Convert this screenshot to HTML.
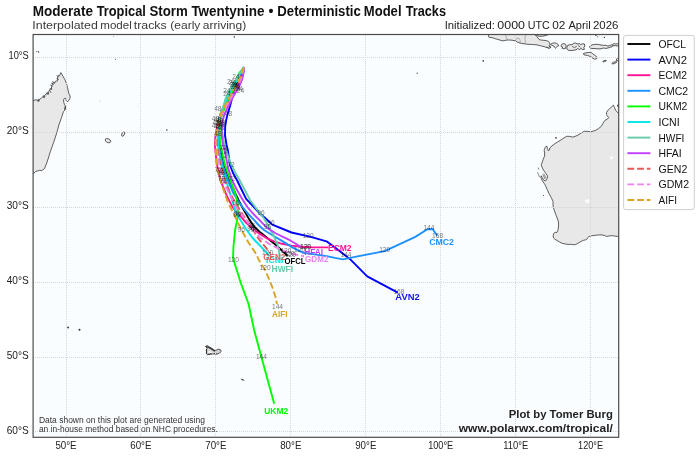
<!DOCTYPE html>
<html><head><meta charset="utf-8"><title>Model Tracks</title>
<style>html,body{margin:0;padding:0;background:#fff;}body{width:700px;height:457px;overflow:hidden;font-family:"Liberation Sans",sans-serif;}svg{will-change:transform;transform:translateZ(0);}</style></head>
<body>
<svg width="700" height="457" viewBox="0 0 700 457" style="display:block;font-family:'Liberation Sans',sans-serif">
<rect width="700" height="457" fill="#ffffff"/>
<defs><clipPath id="mc"><rect x="33.1" y="34.5" width="585.6" height="402.8"/></clipPath></defs>
<rect x="33.1" y="34.5" width="585.6" height="402.8" fill="#fafdff"/>
<g clip-path="url(#mc)">
<g fill="#e8e8e8" stroke="#2e2e2e" stroke-width="0.75" stroke-linejoin="round">
<path d="M30.0,100.5 L33.9,100.5 L36.0,99.6 L38.0,101.2 L38.8,99.8 L41.0,98.4 L43.1,96.5 L44.0,97.6 L44.8,95.2 L47.1,93.3 L48.2,94.3 L48.8,91.5 L50.4,88.7 L51.6,89.4 L51.5,86.5 L53.0,82.7 L54.6,83.3 L55.4,81.3 L57.6,80.8 L57.2,78.4 L58.3,75.5 L59.4,75.9 L60.9,72.6 L62.3,75.0 L64.8,79.5 L66.4,83.3 L67.5,87.3 L68.2,90.5 L68.8,93.3 L70.1,96.0 L70.0,98.3 L68.8,100.5 L67.2,101.8 L66.2,100.6 L65.8,98.5 L64.5,98.3 L63.5,99.8 L63.8,102.5 L64.6,104.6 L65.9,107.4 L64.6,108.6 L65.0,110.0 L63.5,111.5 L61.5,117.6 L58.9,125.0 L56.9,132.5 L53.7,142.3 L50.4,151.5 L47.1,162.0 L44.5,168.6 L41.8,170.6 L39.5,170.3 L37.9,170.8 L35.5,171.6 L33.9,173.2 L30.0,174.0Z"/>
<path d="M625.0,113.4 L618.5,113.4 L617.0,111.8 L615.7,110.3 L614.5,107.5 L613.4,105.2 L611.5,106.8 L609.6,108.8 L607.6,110.5 L606.5,112.6 L606.6,114.5 L607.0,115.7 L608.8,117.7 L607.0,119.2 L605.0,120.3 L603.0,123.2 L601.2,126.4 L598.5,128.6 L595.8,130.2 L593.0,131.2 L590.5,131.7 L587.5,131.4 L584.3,131.3 L581.5,132.8 L579.0,134.5 L576.0,136.0 L572.9,137.1 L569.5,136.4 L566.7,136.3 L563.5,138.2 L560.6,140.2 L557.5,142.0 L554.5,144.0 L552.0,145.8 L549.9,147.8 L549.3,150.2 L548.2,150.6 L547.4,148.3 L546.6,145.9 L545.2,147.5 L544.1,150.1 L544.7,153.0 L544.5,156.2 L543.2,159.3 L542.2,162.4 L541.2,164.6 L542.3,167.8 L543.8,170.7 L545.8,173.3 L547.6,176.1 L547.2,178.6 L545.6,180.9 L543.8,180.3 L542.5,178.0 L541.3,175.8 L540.8,177.3 L542.4,181.0 L544.2,183.4 L545.3,185.3 L547.2,189.5 L549.1,193.7 L551.2,197.5 L553.0,201.3 L553.0,204.5 L553.3,207.5 L554.6,211.3 L556.0,215.1 L557.2,218.0 L558.3,221.2 L558.6,225.0 L558.3,228.0 L557.8,230.5 L556.8,232.6 L555.2,232.3 L553.7,233.4 L553.2,235.8 L553.5,238.0 L555.0,239.4 L556.8,240.3 L559.4,242.0 L562.1,243.3 L565.2,244.0 L568.3,244.4 L571.4,244.4 L574.4,244.8 L576.8,244.0 L579.0,242.6 L581.3,241.3 L583.6,240.3 L585.6,239.8 L587.4,238.7 L588.2,237.2 L588.9,236.4 L591.5,235.8 L594.3,235.4 L598.0,235.0 L601.9,234.9 L604.3,235.4 L606.5,236.4 L609.5,235.9 L612.7,235.7 L615.5,236.2 L618.5,236.4 L625.0,236.4Z"/>
<path d="M488.6,30.0 L488.6,34.8 L488.4,36.2 L489.1,37.4 L492.0,37.6 L494.9,38.6 L499.0,39.8 L502.9,40.9 L505.8,40.2 L508.6,40.0 L512.0,40.2 L515.4,40.9 L517.6,42.2 L520.0,43.1 L524.0,43.8 L528.0,44.3 L532.5,44.5 L537.1,44.9 L540.5,45.8 L544.0,46.6 L547.0,47.6 L549.7,48.3 L550.9,47.1 L549.6,45.8 L549.9,44.4 L549.4,42.6 L548.6,41.4 L546.3,40.6 L544.0,40.3 L541.7,40.1 L539.4,39.7 L537.9,37.9 L536.6,36.3 L535.8,35.5 L534.9,34.8 L534.9,30.0Z"/>
</g>
<g fill="#e8e8e8" stroke="#2e2e2e" stroke-width="0.8" stroke-linejoin="round">
<path d="M536.2,30.0 L536.2,35.2 L538.0,36.0 L541.0,36.3 L544.0,35.9 L546.5,35.3 L548.0,34.8 L548.0,30.0Z"/>
<path d="M550.6,44.4 L552.2,43.3 L554.5,42.9 L556.5,43.4 L558.2,44.6 L558.7,45.8 L557.4,46.2 L556.4,47.4 L555.4,48.3 L554.6,47.2 L553.8,46.0 L552.0,45.4Z"/>
<path d="M561.2,45.2 L562.3,43.9 L564.2,43.6 L565.8,44.6 L566.1,46.5 L565.6,48.3 L564.0,48.8 L562.3,48.4 L562.6,47.0 L561.3,46.7Z"/>
<path d="M566.8,47.5 L567.6,45.5 L570.0,44.7 L572.5,44.6 L573.3,43.4 L575.5,43.0 L577.2,44.0 L579.5,43.6 L580.8,44.6 L582.5,43.8 L584.5,44.0 L584.9,46.0 L583.8,47.5 L584.4,49.3 L582.5,49.6 L581.0,48.4 L579.4,49.6 L577.5,48.6 L576.0,49.8 L573.5,50.3 L570.5,50.6 L568.0,50.1 L566.9,49.0Z"/>
<path d="M589.6,47.0 L590.2,45.6 L592.5,44.8 L595.5,44.3 L598.5,44.4 L601.0,45.0 L603.5,45.4 L605.8,45.2 L607.6,46.0 L609.8,45.6 L611.4,44.8 L612.6,45.4 L612.2,46.8 L610.2,47.2 L608.0,48.0 L605.6,48.4 L603.4,48.0 L601.0,48.8 L598.0,48.9 L595.0,48.6 L592.0,48.5 L590.2,48.0Z"/>
<path d="M612.6,44.4 L613.8,43.6 L615.5,44.0 L617.2,43.8 L619.0,44.2 L619.0,45.8 L617.0,46.0 L615.2,45.6 L613.4,46.0Z"/>
<path d="M583.4,53.6 L585.5,52.8 L588.5,52.5 L590.8,52.3 L592.5,53.5 L594.3,55.0 L596.2,56.4 L597.6,57.6 L596.8,58.6 L594.6,59.2 L593.0,58.4 L591.5,57.2 L589.5,56.2 L587.5,55.4 L585.2,55.1 L583.8,54.7Z"/>
<path d="M602.8,61.4 L604.2,60.6 L606.0,60.2 L606.2,61.0 L604.6,61.6 L603.2,62.0Z"/>
<path d="M611.8,63.4 L613.2,62.4 L615.2,61.8 L616.4,61.6 L616.4,62.6 L614.6,63.4 L612.8,64.0Z"/>
<path d="M616.0,60.2 L617.2,58.6 L618.4,57.0 L622.0,55.0 L622.0,62.0 L618.0,61.0Z"/>
<path d="M105.3,139.2 L106.6,138.5 L108.4,138.8 L110.0,139.9 L110.8,141.3 L110.2,142.4 L108.6,142.8 L106.8,142.2 L105.5,140.9Z"/>
<path d="M121.6,134.6 L122.3,133.0 L123.4,132.0 L124.5,132.2 L124.6,133.8 L123.9,135.4 L122.8,136.3 L121.8,135.9Z"/>
</g>
<path d="M205.4,346.4 L207.5,345.6 L209.3,346.9 L211.7,348.2 L213.8,349.8 L215.3,350.6 L216.9,349.8 L219.0,349.1 L220.9,350.1 L221.0,351.7 L219.5,353.2 L217.4,354.0 L214.8,353.8 L212.7,354.0 L210.1,353.8 L207.7,354.8 L206.4,353.8 L206.7,351.7 L206.1,350.1 L207.2,348.2Z" fill="#d2d2d2" stroke="#303030" stroke-width="0.8" stroke-linejoin="round"/>
<path d="M206.2,346.6 L209.2,347.6 L212.2,349.4 L214.9,351.2" fill="none" stroke="#383838" stroke-width="1.25" stroke-linecap="round"/>
<path d="M208.8,350.4 L211.7,352.0 L213.0,353.0 L209.0,353.4 L208.2,352.2 Z" fill="#f4f4f4"/>
<path d="M206.6,349 L206.4,353.6 M207.6,354.4 L212,353.9 M214,353.6 L216.8,353.9" fill="none" stroke="#333" stroke-width="1.0"/>
<g fill="none" stroke="#2e2e2e" stroke-width="0.7" stroke-linecap="round">
<path d="M37.9,99.9 L38.9,101.6 M39.2,100.4 L38.4,99.3"/>
<path d="M43.2,96.0 L44.4,97.8 M44.7,96.2 L43.8,95.3"/>
<path d="M46.5,92.8 L48.0,94.6 M48.3,93.0 L47.4,92.2"/>
<path d="M49.8,90.7 L50.9,92.4 M51.0,89.6 L50.2,88.6"/>
<path d="M50.6,85.2 L52.4,86.2 M51.6,83.2 L53.4,84.4 M52.6,81.6 L54.4,82.6"/>
<path d="M57.0,75.6 L58.4,77.0 M57.4,78.6 L58.6,79.4"/>
<path d="M64.6,107.0 L65.8,109.4 M65.9,107.2 L64.9,109.0"/>
<path d="M572.6,46.6 L574.4,47.6 L576.4,46.4 M578.4,45.6 L580,47.0"/>
<path d="M549.2,46.0 L550.4,47.8 M547.4,47.0 L548.2,48.2"/>
</g>
<g fill="none" stroke="#666" stroke-width="0.45"><path d="M505.7,35 L506.4,37.5 L507.6,40"/><path d="M525.8,35 L524.8,38 L525.4,41 L524.6,43.6"/><path d="M515.4,40.9 L516.5,38.5 L518.8,38.2 L520.2,40.2 L520,43.1"/></g>
<g fill="#fbfbfb"><ellipse cx="611.6" cy="157.8" rx="1.7" ry="1.5"/><path d="M584.2,200.2 L588.6,199.0 L589.6,201.0 L589.2,203.2 L586.6,203.0 Z"/></g>
<g fill="#2e2e2e">
<circle cx="234.3" cy="37.1" r="0.75"/>
<circle cx="113.3" cy="36.4" r="0.4"/>
<circle cx="68.1" cy="327.5" r="0.9"/>
<circle cx="79.5" cy="329.7" r="1.0"/>
<circle cx="483.2" cy="60.9" r="0.8"/>
<circle cx="417.2" cy="73.2" r="0.6"/>
<circle cx="115.5" cy="59.3" r="0.5"/>
<circle cx="166.9" cy="130.0" r="0.75"/>
<circle cx="556.0" cy="137.9" r="0.8"/>
<circle cx="543.6" cy="195.5" r="0.5"/>
<circle cx="595.9" cy="35.3" r="0.8"/>
<circle cx="604.4" cy="37.4" r="0.6"/>
<circle cx="597.8" cy="36.8" r="0.5"/>
<circle cx="618.2" cy="105.7" r="1.1"/>
<circle cx="38.5" cy="52.0" r="0.7"/>
<circle cx="36.8" cy="51.6" r="0.5"/>
<circle cx="272.4" cy="265.8" r="0.5"/>
<path d="M240.6,378.8 L242.5,379.0 L244.5,380.2 L243.8,380.8 L241.8,380.1 Z"/>
</g>
<circle cx="100.3" cy="101.1" r="0.6" fill="#bbb"/><circle cx="138" cy="106.8" r="0.5" fill="#ccc"/>
<g fill="none" stroke="#2e2e2e" stroke-width="0.6"><path d="M537.6,172.2 L538.4,174.6 L539.8,177.2"/><path d="M538.3,167.6 L538.9,169.6"/><path d="M542.8,174.5 L544.2,177.2 L545.2,179.2 M543.6,173.6 L545.0,176.0 L546.0,178.2"/></g>
<g stroke="#d6d6d6" stroke-width="1" stroke-dasharray="1,1" fill="none" shape-rendering="crispEdges">
<line x1="66.0" y1="34.5" x2="66.0" y2="437.3"/>
<line x1="140.9" y1="34.5" x2="140.9" y2="437.3"/>
<line x1="215.9" y1="34.5" x2="215.9" y2="437.3"/>
<line x1="290.9" y1="34.5" x2="290.9" y2="437.3"/>
<line x1="365.8" y1="34.5" x2="365.8" y2="437.3"/>
<line x1="440.8" y1="34.5" x2="440.8" y2="437.3"/>
<line x1="515.7" y1="34.5" x2="515.7" y2="437.3"/>
<line x1="590.6" y1="34.5" x2="590.6" y2="437.3"/>
<line x1="33.1" y1="57.4" x2="618.7" y2="57.4"/>
<line x1="33.1" y1="132.3" x2="618.7" y2="132.3"/>
<line x1="33.1" y1="207.2" x2="618.7" y2="207.2"/>
<line x1="33.1" y1="282.1" x2="618.7" y2="282.1"/>
<line x1="33.1" y1="357.0" x2="618.7" y2="357.0"/>
<line x1="33.1" y1="431.9" x2="618.7" y2="431.9"/>
</g>
<g fill="none" stroke-width="1.9" stroke-linejoin="round" stroke-linecap="butt">
<path d="M244.0,67.2 L241.2,73.4 L239.2,78.6 L235.8,85.2 L232.1,91.8 L228.6,98.3 L226.1,104.0 L223.3,110.2 L221.4,114.4 L220.1,120.0 L219.4,126.3 L219.1,135.5 L219.6,144.7 L220.7,150.0 L222.6,160.0 L226.6,172.0 L231.2,184.0 L236.0,194.9 L242.1,207.1 L249.2,219.4 L254.0,226.5 L260.5,232.6 L266.4,237.3 L275.6,244.7 L282.4,251.0 L287.6,255.8" stroke="#000000"/>
<path d="M244.0,67.2 L243.2,73.4 L241.8,78.6 L238.9,85.2 L235.3,91.8 L232.0,98.3 L230.6,104.0 L228.8,110.2 L227.5,114.4 L226.2,120.0 L225.2,126.3 L225.0,135.5 L226.5,144.7 L227.8,150.0 L228.8,157.0 L229.8,164.4 L233.0,173.0 L236.9,180.0 L241.5,189.5 L246.1,198.8 L252.0,205.0 L260.5,214.3 L264.9,217.7 L272.3,224.6 L291.5,232.5 L310.8,236.9 L326.5,241.3 L337.0,249.1 L350.8,259.8 L367.2,276.3 L397.8,292.7" stroke="#0000ff"/>
<path d="M244.0,67.2 L242.0,73.4 L240.3,78.6 L237.2,85.2 L233.5,91.8 L229.8,98.3 L226.6,104.0 L223.0,110.2 L220.7,114.4 L218.7,120.0 L217.2,126.3 L215.5,135.5 L214.9,144.7 L215.3,150.0 L216.7,163.1 L218.6,172.0 L220.3,180.0 L226.4,194.9 L232.5,207.1 L238.0,213.5 L246.5,223.0 L253.0,229.0 L260.5,234.4 L266.0,237.8 L274.0,241.3 L282.0,243.8 L291.5,245.6 L302.0,246.8 L312.5,247.4 L328.3,247.4" stroke="#ff1493"/>
<path d="M244.0,67.2 L240.2,73.4 L237.7,78.6 L234.1,85.2 L230.3,91.8 L227.0,98.3 L224.6,104.0 L222.1,110.2 L220.4,114.4 L219.1,120.0 L218.5,126.3 L218.4,135.5 L218.7,144.7 L219.6,150.0 L223.2,167.1 L227.7,180.0 L233.8,194.0 L240.0,203.6 L246.0,211.5 L253.5,219.4 L259.0,225.5 L264.0,230.0 L272.1,235.0 L283.6,241.9 L292.7,247.6 L303.0,252.7 L314.4,254.4 L326.5,256.1 L335.0,257.9 L343.1,259.4 L356.3,256.6 L384.7,251.1 L415.3,236.9 L427.4,229.2 L432.8,229.2 L437.2,235.8" stroke="#1e90ff"/>
<path d="M244.0,67.2 L239.1,73.4 L236.4,78.6 L234.2,85.2 L232.1,91.8 L228.8,98.3 L226.4,104.0 L223.7,110.2 L221.8,114.4 L220.5,120.0 L219.9,126.3 L219.7,135.5 L220.4,144.7 L221.5,150.0 L225.2,165.8 L230.3,180.0 L235.6,194.9 L237.9,205.4 L237.8,208.9 L237.3,219.4 L235.1,230.0 L233.4,247.5 L233.0,258.0 L240.8,283.0 L248.6,304.0 L254.1,330.0 L261.4,357.0 L274.2,403.8" stroke="#00ff00"/>
<path d="M244.0,67.2 L240.3,73.4 L237.5,78.6 L234.1,85.2 L230.5,91.8 L227.1,98.3 L224.7,104.0 L222.0,110.2 L220.2,114.4 L218.9,120.0 L218.2,126.3 L217.8,135.5 L217.9,144.7 L218.7,150.0 L221.9,167.1 L226.0,180.0 L231.2,197.5 L236.0,212.4 L240.4,220.0 L246.0,229.0 L251.8,237.0 L255.0,240.5 L261.9,247.6 L267.6,253.9 L269.6,256.3" stroke="#00e5e5"/>
<path d="M244.0,67.2 L239.4,73.4 L236.4,78.6 L232.5,85.2 L228.7,91.8 L225.6,98.3 L224.1,104.0 L222.4,110.2 L221.3,114.4 L220.9,120.0 L221.2,126.3 L222.7,135.5 L224.3,144.7 L226.0,150.0 L230.5,163.1 L235.0,172.0 L239.5,180.0 L244.5,189.5 L250.0,200.0 L257.0,209.5 L264.0,218.5 L267.5,224.8 L271.0,231.0 L273.3,235.0 L277.3,244.1 L279.0,251.0 L279.6,256.7" stroke="#66cdaa"/>
<path d="M244.0,67.2 L243.4,73.4 L242.4,78.6 L239.7,85.2 L236.1,91.8 L232.1,98.3 L229.5,104.0 L226.4,110.2 L224.3,114.4 L222.9,120.0 L222.0,126.3 L221.7,135.5 L223.0,144.7 L224.5,150.0 L226.6,160.0 L227.8,167.1 L232.0,180.0 L236.5,189.0 L241.3,197.5 L247.4,207.1 L252.5,213.0 L258.8,219.4 L267.5,228.3 L276.0,233.5 L289.8,240.2 L297.0,244.5 L300.7,247.0" stroke="#bf3eff"/>
<path d="M244.0,67.2 L242.4,73.4 L241.0,78.6 L238.0,85.2 L234.3,91.8 L230.5,98.3 L227.5,104.0 L224.0,110.2 L221.7,114.4 L219.8,120.0 L218.5,126.3 L217.1,135.5 L217.0,144.7 L217.7,150.0 L220.6,165.0 L224.8,180.0 L230.0,193.0 L236.0,204.0 L243.0,215.0 L250.0,224.8 L257.9,237.9 L263.0,244.1 L267.6,249.9 L270.5,253.5" stroke="#e05a5a" stroke-dasharray="6.8,2.94"/>
<path d="M244.0,67.2 L242.5,73.4 L241.1,78.6 L238.1,85.2 L234.5,91.8 L230.7,98.3 L227.5,104.0 L223.9,110.2 L221.5,114.4 L219.5,120.0 L218.1,126.3 L216.5,135.5 L216.2,144.7 L216.8,150.0 L219.4,165.0 L223.8,182.6 L229.0,193.1 L235.1,205.4 L240.4,213.3 L245.6,219.4 L250.5,226.0 L255.3,231.8 L259.6,237.3 L268.7,243.6 L281.3,249.9 L292.7,253.9 L304.0,256.3" stroke="#ee82ee" stroke-dasharray="6.8,2.94"/>
<path d="M244.0,67.2 L241.4,73.4 L239.4,78.6 L236.1,85.2 L232.4,91.8 L228.8,98.3 L225.9,104.0 L222.5,110.2 L220.4,114.4 L218.6,120.0 L217.3,126.3 L216.0,135.5 L215.6,144.7 L216.0,150.0 L216.0,156.6 L217.3,169.7 L221.1,182.6 L224.6,193.1 L228.1,202.8 L232.5,211.5 L236.0,218.5 L240.5,228.0 L248.3,242.3 L255.0,252.1 L259.6,261.3 L265.3,270.4 L269.3,279.6 L273.0,289.0 L275.8,297.9 L277.0,304.0" stroke="#daa520" stroke-dasharray="6.8,2.94"/>
</g>
<g font-size="6.6" fill="#000" fill-opacity="0.55" text-anchor="middle">
<text x="236" y="78.9">24</text>
<text x="230.6" y="83.5">24</text>
<text x="232.6" y="84.9">24</text>
<text x="233.2" y="87.1">24</text>
<text x="235.2" y="86.9">24</text>
<text x="234.4" y="89.3">24</text>
<text x="236.6" y="88.9">24</text>
<text x="237.2" y="91.1">24</text>
<text x="239.2" y="90.8">24</text>
<text x="240.4" y="92.9">24</text>
<text x="226.8" y="93.3">24</text>
<text x="227" y="96.3">24</text>
<text x="217.8" y="110.5">48</text>
<text x="228.4" y="116.4">48</text>
<text x="215.5" y="120.8">48</text>
<text x="217.5" y="122.1">48</text>
<text x="219.8" y="122.9">48</text>
<text x="221.6" y="124.5">48</text>
<text x="216.2" y="124.9">48</text>
<text x="218.6" y="125.9">48</text>
<text x="222.4" y="126.9">48</text>
<text x="215.4" y="127.9">48</text>
<text x="217.8" y="129.2">48</text>
<text x="220.6" y="129.6">48</text>
<text x="218" y="135.8">48</text>
<text x="223.2" y="150.2">72</text>
<text x="224" y="152.9">72</text>
<text x="223.2" y="158.2">72</text>
<text x="231.1" y="167.4">72</text>
<text x="218.5" y="172.3">72</text>
<text x="220" y="173.3">72</text>
<text x="221" y="175.3">72</text>
<text x="221.9" y="176.7">72</text>
<text x="221.3" y="180.5">72</text>
<text x="223.2" y="182.5">72</text>
<text x="231.8" y="180.5">72</text>
<text x="236" y="205.2">96</text>
<text x="236.9" y="216.7">96</text>
<text x="237.3" y="216.0">96</text>
<text x="260.9" y="214.8">96</text>
<text x="271" y="225.0">96</text>
<text x="267.5" y="228.8">96</text>
<text x="251.8" y="227.9">96</text>
<text x="250.9" y="231.4">96</text>
<text x="241.3" y="232.3">96</text>
<text x="252.6" y="229.8">96</text>
<text x="254.4" y="232.3">96</text>
<text x="233.4" y="262.2">120</text>
<text x="267.6" y="255.0">120</text>
<text x="265.1" y="270.2">120</text>
<text x="285.9" y="252.8">120</text>
<text x="289.3" y="255.7">120</text>
<text x="290.4" y="257.4">120</text>
<text x="308.2" y="238.0">120</text>
<text x="305.3" y="248.8">120</text>
<text x="306" y="249.2">120</text>
<text x="299.6" y="252.2">120</text>
<text x="384.7" y="252.3">120</text>
<text x="346" y="256.8">144</text>
<text x="428.9" y="230.4">144</text>
<text x="277.5" y="308.5">144</text>
<text x="261.4" y="359.0">144</text>
<text x="437.6" y="237.7">168</text>
<text x="398.9" y="294.4">168</text>
</g>
<g font-size="8.2" font-weight="bold">
<text x="284.6" y="263.7" fill="#000000" textLength="21.0" lengthAdjust="spacingAndGlyphs">OFCL</text>
<text x="395.3" y="300.4" fill="#1414ee" textLength="24.4" lengthAdjust="spacingAndGlyphs">AVN2</text>
<text x="328.0" y="251.2" fill="#ff1493" textLength="23.6" lengthAdjust="spacingAndGlyphs">ECM2</text>
<text x="429.2" y="245.3" fill="#1e90ff" textLength="24.8" lengthAdjust="spacingAndGlyphs">CMC2</text>
<text x="264.2" y="414.3" fill="#00ff00" textLength="24.0" lengthAdjust="spacingAndGlyphs">UKM2</text>
<text x="266.0" y="263.0" fill="#00e5e5" textLength="17.4" lengthAdjust="spacingAndGlyphs">ICNI</text>
<text x="271.6" y="271.8" fill="#66cdaa" textLength="21.4" lengthAdjust="spacingAndGlyphs">HWFI</text>
<text x="304.2" y="255.1" fill="#bf3eff" textLength="19.0" lengthAdjust="spacingAndGlyphs">HFAI</text>
<text x="263.3" y="260.2" fill="#e05a5a" textLength="21.9" lengthAdjust="spacingAndGlyphs">GEN2</text>
<text x="305.0" y="262.2" fill="#ee82ee" textLength="23.4" lengthAdjust="spacingAndGlyphs">GDM2</text>
<text x="272.0" y="316.5" fill="#daa520" textLength="15.4" lengthAdjust="spacingAndGlyphs">AIFI</text>
</g>
<g font-size="8.3" fill="#333"><text x="38.9" y="422.6" textLength="166" lengthAdjust="spacingAndGlyphs">Data shown on this plot are generated using</text><text x="38.9" y="432.2" textLength="179" lengthAdjust="spacingAndGlyphs">an in-house method based on NHC procedures.</text></g>
<g font-size="11.5" font-weight="bold" fill="#222" text-anchor="end"><text x="612.8" y="418" textLength="104" lengthAdjust="spacingAndGlyphs">Plot by Tomer Burg</text><text x="612.8" y="431.5" textLength="154" lengthAdjust="spacingAndGlyphs">www.polarwx.com/tropical/</text></g>
</g>
<rect x="33.1" y="34.5" width="585.6" height="402.8" fill="none" stroke="#4c4c4c" stroke-width="1.2"/>
<g font-size="10.8" fill="#222">
<text x="55.4" y="449.2" textLength="21.2" lengthAdjust="spacingAndGlyphs">50°E</text>
<text x="130.3" y="449.2" textLength="21.2" lengthAdjust="spacingAndGlyphs">60°E</text>
<text x="205.3" y="449.2" textLength="21.2" lengthAdjust="spacingAndGlyphs">70°E</text>
<text x="280.2" y="449.2" textLength="21.2" lengthAdjust="spacingAndGlyphs">80°E</text>
<text x="355.2" y="449.2" textLength="21.2" lengthAdjust="spacingAndGlyphs">90°E</text>
<text x="428.2" y="449.2" textLength="25.0" lengthAdjust="spacingAndGlyphs">100°E</text>
<text x="503.2" y="449.2" textLength="25.0" lengthAdjust="spacingAndGlyphs">110°E</text>
<text x="578.1" y="449.2" textLength="25.0" lengthAdjust="spacingAndGlyphs">120°E</text>
<text x="8.5" y="59.4" textLength="20.2" lengthAdjust="spacingAndGlyphs">10°S</text>
<text x="6.7" y="134.3" textLength="22.0" lengthAdjust="spacingAndGlyphs">20°S</text>
<text x="6.7" y="209.2" textLength="22.0" lengthAdjust="spacingAndGlyphs">30°S</text>
<text x="6.7" y="284.1" textLength="22.0" lengthAdjust="spacingAndGlyphs">40°S</text>
<text x="6.7" y="359.0" textLength="22.0" lengthAdjust="spacingAndGlyphs">50°S</text>
<text x="6.7" y="433.9" textLength="22.0" lengthAdjust="spacingAndGlyphs">60°S</text>
</g>
<text x="32.71" y="15.6" font-size="13.9" font-weight="bold" fill="#111" textLength="60.25" lengthAdjust="spacingAndGlyphs">Moderate</text>
<text x="96.64" y="15.6" font-size="13.9" font-weight="bold" fill="#111" textLength="49.21" lengthAdjust="spacingAndGlyphs">Tropical</text>
<text x="149.39" y="15.6" font-size="13.9" font-weight="bold" fill="#111" textLength="38.32" lengthAdjust="spacingAndGlyphs">Storm</text>
<text x="191.40" y="15.6" font-size="13.9" font-weight="bold" fill="#111" textLength="73.10" lengthAdjust="spacingAndGlyphs">Twentynine</text>
<text x="268.50" y="15.6" font-size="13.9" font-weight="bold" fill="#111" textLength="5.00" lengthAdjust="spacingAndGlyphs">•</text>
<text x="277.36" y="15.6" font-size="13.9" font-weight="bold" fill="#111" textLength="83.41" lengthAdjust="spacingAndGlyphs">Deterministic</text>
<text x="363.81" y="15.6" font-size="13.9" font-weight="bold" fill="#111" textLength="37.73" lengthAdjust="spacingAndGlyphs">Model</text>
<text x="405.75" y="15.6" font-size="13.9" font-weight="bold" fill="#111" textLength="40.25" lengthAdjust="spacingAndGlyphs">Tracks</text>
<text x="32.33" y="28.6" font-size="11.1" font-weight="normal" fill="#3a3a3a" textLength="65.47" lengthAdjust="spacingAndGlyphs">Interpolated</text>
<text x="100.30" y="28.6" font-size="11.1" font-weight="normal" fill="#3a3a3a" textLength="31.45" lengthAdjust="spacingAndGlyphs">model</text>
<text x="133.75" y="28.6" font-size="11.1" font-weight="normal" fill="#3a3a3a" textLength="33.00" lengthAdjust="spacingAndGlyphs">tracks</text>
<text x="170.24" y="28.6" font-size="11.1" font-weight="normal" fill="#3a3a3a" textLength="30.14" lengthAdjust="spacingAndGlyphs">(early</text>
<text x="202.80" y="28.6" font-size="11.1" font-weight="normal" fill="#3a3a3a" textLength="43.44" lengthAdjust="spacingAndGlyphs">arriving)</text>
<text x="444.71" y="28.6" font-size="11.1" font-weight="normal" fill="#222" textLength="50.16" lengthAdjust="spacingAndGlyphs">Initialized:</text>
<text x="497.37" y="28.6" font-size="11.1" font-weight="normal" fill="#222" textLength="27.57" lengthAdjust="spacingAndGlyphs">0000</text>
<text x="527.80" y="28.6" font-size="11.1" font-weight="normal" fill="#222" textLength="22.04" lengthAdjust="spacingAndGlyphs">UTC</text>
<text x="552.26" y="28.6" font-size="11.1" font-weight="normal" fill="#222" textLength="13.15" lengthAdjust="spacingAndGlyphs">02</text>
<text x="568.42" y="28.6" font-size="11.1" font-weight="normal" fill="#222" textLength="22.22" lengthAdjust="spacingAndGlyphs">April</text>
<text x="592.91" y="28.6" font-size="11.1" font-weight="normal" fill="#222" textLength="25.46" lengthAdjust="spacingAndGlyphs">2026</text>
<rect x="623.6" y="35.4" width="70.7" height="174.2" rx="2.2" ry="2.2" fill="#ffffff" stroke="#cfcfcf" stroke-width="1"/>
<line x1="627.4" y1="44.0" x2="650.4" y2="44.0" stroke="#000000" stroke-width="1.9"/>
<text x="658.5" y="47.9" font-size="11" fill="#111" textLength="27.6" lengthAdjust="spacingAndGlyphs">OFCL</text>
<line x1="627.4" y1="59.6" x2="650.4" y2="59.6" stroke="#0000ff" stroke-width="1.9"/>
<text x="658.5" y="63.5" font-size="11" fill="#111" textLength="28.4" lengthAdjust="spacingAndGlyphs">AVN2</text>
<line x1="627.4" y1="75.2" x2="650.4" y2="75.2" stroke="#ff1493" stroke-width="1.9"/>
<text x="658.5" y="79.1" font-size="11" fill="#111" textLength="28.4" lengthAdjust="spacingAndGlyphs">ECM2</text>
<line x1="627.4" y1="90.8" x2="650.4" y2="90.8" stroke="#1e90ff" stroke-width="1.9"/>
<text x="658.5" y="94.7" font-size="11" fill="#111" textLength="29.7" lengthAdjust="spacingAndGlyphs">CMC2</text>
<line x1="627.4" y1="106.4" x2="650.4" y2="106.4" stroke="#00ff00" stroke-width="1.9"/>
<text x="658.5" y="110.3" font-size="11" fill="#111" textLength="28.9" lengthAdjust="spacingAndGlyphs">UKM2</text>
<line x1="627.4" y1="122.0" x2="650.4" y2="122.0" stroke="#00e5e5" stroke-width="1.9"/>
<text x="658.5" y="125.9" font-size="11" fill="#111" textLength="21.1" lengthAdjust="spacingAndGlyphs">ICNI</text>
<line x1="627.4" y1="137.6" x2="650.4" y2="137.6" stroke="#66cdaa" stroke-width="1.9"/>
<text x="658.5" y="141.5" font-size="11" fill="#111" textLength="25.9" lengthAdjust="spacingAndGlyphs">HWFI</text>
<line x1="627.4" y1="153.2" x2="650.4" y2="153.2" stroke="#bf3eff" stroke-width="1.9"/>
<text x="658.5" y="157.1" font-size="11" fill="#111" textLength="23.2" lengthAdjust="spacingAndGlyphs">HFAI</text>
<line x1="627.4" y1="168.8" x2="650.4" y2="168.8" stroke="#e05a5a" stroke-width="1.9" stroke-dasharray="6.8,2.94"/>
<text x="658.5" y="172.7" font-size="11" fill="#111" textLength="28.8" lengthAdjust="spacingAndGlyphs">GEN2</text>
<line x1="627.4" y1="184.4" x2="650.4" y2="184.4" stroke="#ee82ee" stroke-width="1.9" stroke-dasharray="6.8,2.94"/>
<text x="658.5" y="188.3" font-size="11" fill="#111" textLength="30.5" lengthAdjust="spacingAndGlyphs">GDM2</text>
<line x1="627.4" y1="200.0" x2="650.4" y2="200.0" stroke="#daa520" stroke-width="1.9" stroke-dasharray="6.8,2.94"/>
<text x="658.5" y="203.9" font-size="11" fill="#111" textLength="18.5" lengthAdjust="spacingAndGlyphs">AIFI</text>
</svg>
</body></html>
